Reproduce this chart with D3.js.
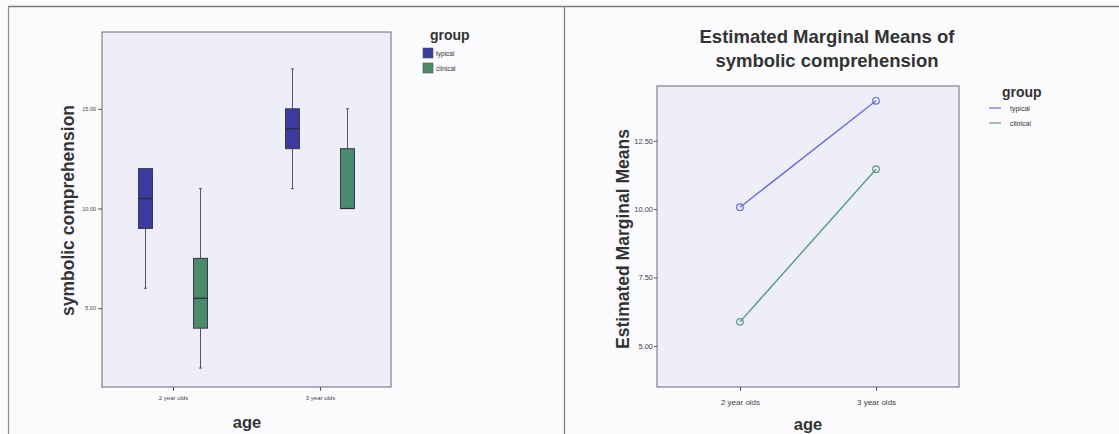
<!DOCTYPE html>
<html>
<head>
<meta charset="utf-8">
<script src="https://cdn.jsdelivr.net/npm/d3@7"></script>
<style>
  body { margin: 0; background: #fbfbfd; }
  svg { display: block; font-family: "Liberation Sans", Arial, sans-serif; }
</style>
</head>
<body>
<svg id="chart" width="1119" height="434"></svg>
<script>
// data ------------------------------------------------------------------
const categories = ["2 year olds", "3 year olds"];
const groups = ["typical", "clinical"];
const groupColors = ["#3b3ba0", "#4b8a6c"];
const lineColors = ["#6b6bdc", "#5b9a82"];

// box stats per age: [min, q1, median, q3, max]
const boxTypical = [[6, 9, 10.5, 12, 12], [11, 13, 14, 15, 17]];
const boxClinical = [[2, 4, 5.5, 7.5, 11], [10, 10, 10, 13, 15]];

// estimated marginal means per age
const meansTypical = [10.07, 13.96];
const meansClinical = [5.88, 11.46];

const boxTicks = [5, 10, 15];
const meanTicks = [5, 7.5, 10, 12.5];

const svg = d3.select("#chart");
const fmt = d3.format(".2f");

// page frame
svg.append("line").attr("x1", 8).attr("x2", 1119).attr("y1", 6.5).attr("y2", 6.5)
  .attr("stroke", "#7a7a80").attr("stroke-width", 1.5);
svg.append("line").attr("x1", 8.5).attr("x2", 8.5).attr("y1", 6).attr("y2", 434)
  .attr("stroke", "#8a8a90").attr("stroke-width", 1.2);
svg.append("line").attr("x1", 564.5).attr("x2", 564.5).attr("y1", 6).attr("y2", 434)
  .attr("stroke", "#7a7a80").attr("stroke-width", 1.2);

// ---------------------------------------------------------------- boxplot
const left = { x0: 102, x1: 391, y0: 32, y1: 387 };
const xL = d3.scalePoint().domain(categories).range([left.x0, left.x1]).padding(0.483);
const gOff = d3.scalePoint().domain(groups).range([-27.5, 27.5]);
const yL = d3.scaleLinear().domain([1.05, 18.85]).range([left.y1, left.y0]);

const gl = svg.append("g");
gl.append("rect").attr("x", left.x0).attr("y", left.y0)
  .attr("width", left.x1 - left.x0).attr("height", left.y1 - left.y0)
  .attr("fill", "#eeeef9").attr("stroke", "#6a6a72").attr("stroke-width", 1);

gl.append("g").attr("transform", `translate(${left.x0},0)`)
  .call(d3.axisLeft(yL).tickValues(boxTicks).tickFormat(fmt).tickSize(4).tickPadding(2))
  .call(g => g.select(".domain").remove())
  .call(g => g.selectAll("line").attr("stroke", "#555"))
  .call(g => g.selectAll("text").attr("font-size", 5.5).attr("fill", "#444"));

gl.append("g").attr("transform", `translate(0,${left.y1})`)
  .call(d3.axisBottom(xL).tickSize(4).tickPadding(5))
  .call(g => g.select(".domain").remove())
  .call(g => g.selectAll("line").attr("stroke", "#555"))
  .call(g => g.selectAll("text").attr("font-size", 6).attr("fill", "#444"));

const boxW = 14;
[boxTypical, boxClinical].forEach((series, gi) => {
  series.forEach((s, ci) => {
    const cx = xL(categories[ci]) + gOff(groups[gi]);
    const [mn, q1, md, q3, mx] = s;
    const b = gl.append("g");
    b.append("line").attr("x1", cx).attr("x2", cx).attr("y1", yL(mn)).attr("y2", yL(q1))
      .attr("stroke", "#555").attr("stroke-width", 1);
    b.append("line").attr("x1", cx).attr("x2", cx).attr("y1", yL(q3)).attr("y2", yL(mx))
      .attr("stroke", "#555").attr("stroke-width", 1);
    [mn, mx].forEach(v => {
      if (v !== q1 && v !== q3) {
        b.append("line").attr("x1", cx - 1.5).attr("x2", cx + 1.5).attr("y1", yL(v)).attr("y2", yL(v))
          .attr("stroke", "#555").attr("stroke-width", 1);
      }
    });
    b.append("rect").attr("x", cx - boxW / 2).attr("y", yL(q3))
      .attr("width", boxW).attr("height", yL(q1) - yL(q3))
      .attr("fill", groupColors[gi]).attr("stroke", "#3a3a48").attr("stroke-width", 1);
    b.append("line").attr("x1", cx - boxW / 2).attr("x2", cx + boxW / 2)
      .attr("y1", yL(md)).attr("y2", yL(md)).attr("stroke", "#2a2a3a").attr("stroke-width", 1.2);
  });
});

gl.append("text").attr("transform", `translate(74,${(left.y0 + left.y1) / 2 + 1}) rotate(-90)`)
  .attr("text-anchor", "middle").attr("font-size", 17.5).attr("font-weight", "bold")
  .attr("fill", "#333").text("symbolic comprehension");
gl.append("text").attr("x", 247).attr("y", 428).attr("text-anchor", "middle")
  .attr("font-size", 16.5).attr("font-weight", "bold").attr("fill", "#333").text("age");

// legend
gl.append("text").attr("x", 430).attr("y", 40).attr("font-size", 14)
  .attr("font-weight", "bold").attr("fill", "#333").text("group");
groups.forEach((g, i) => {
  gl.append("rect").attr("x", 423).attr("y", 48 + i * 15).attr("width", 10).attr("height", 10)
    .attr("fill", groupColors[i]).attr("stroke", "#555").attr("stroke-width", 0.6);
  gl.append("text").attr("x", 436).attr("y", 56 + i * 15).attr("font-size", 6.5)
    .attr("fill", "#333").text(g);
});

// ------------------------------------------------------------- means plot
const right = { x0: 657, x1: 959, y0: 86, y1: 387 };
const xR = d3.scalePoint().domain(categories).range([right.x0, right.x1]).padding(0.61);
const yR = d3.scaleLinear().domain([3.5, 14.5]).range([right.y1, right.y0]);

const gr = svg.append("g");
gr.append("rect").attr("x", right.x0).attr("y", right.y0)
  .attr("width", right.x1 - right.x0).attr("height", right.y1 - right.y0)
  .attr("fill", "#eeeef9").attr("stroke", "#6a6a72").attr("stroke-width", 1);

gr.append("g").attr("transform", `translate(${right.x0},0)`)
  .call(d3.axisLeft(yR).tickValues(meanTicks).tickFormat(fmt).tickSize(3).tickPadding(1))
  .call(g => g.select(".domain").remove())
  .call(g => g.selectAll("line").attr("stroke", "#555"))
  .call(g => g.selectAll("text").attr("font-size", 7.5).attr("fill", "#444"));

gr.append("g").attr("transform", `translate(0,${right.y1})`)
  .call(d3.axisBottom(xR).tickSize(4).tickPadding(8))
  .call(g => g.select(".domain").remove())
  .call(g => g.selectAll("line").attr("stroke", "#555"))
  .call(g => g.selectAll("text").attr("font-size", 8).attr("fill", "#444"));

const line = d3.line().x((d, i) => xR(categories[i])).y(d => yR(d));
[meansTypical, meansClinical].forEach((series, gi) => {
  gr.append("path").datum(series).attr("d", line).attr("fill", "none")
    .attr("stroke", lineColors[gi]).attr("stroke-width", 1.4);
  gr.selectAll(null).data(series).join("circle")
    .attr("cx", (d, i) => xR(categories[i])).attr("cy", d => yR(d)).attr("r", 3.3)
    .attr("fill", "none").attr("stroke", lineColors[gi]).attr("stroke-width", 1.2);
});

gr.append("text").attr("x", 827).attr("y", 43).attr("text-anchor", "middle")
  .attr("font-size", 18.5).attr("font-weight", "bold").attr("fill", "#333")
  .text("Estimated Marginal Means of");
gr.append("text").attr("x", 827).attr("y", 67).attr("text-anchor", "middle")
  .attr("font-size", 18.5).attr("font-weight", "bold").attr("fill", "#333")
  .text("symbolic comprehension");
gr.append("text").attr("transform", `translate(629,${(128 + 350) / 2}) rotate(-90)`)
  .attr("text-anchor", "middle").attr("font-size", 17.5).attr("font-weight", "bold")
  .attr("fill", "#333").text("Estimated Marginal Means");
gr.append("text").attr("x", 808).attr("y", 430).attr("text-anchor", "middle")
  .attr("font-size", 16.5).attr("font-weight", "bold").attr("fill", "#333").text("age");

// legend
gr.append("text").attr("x", 1002).attr("y", 97).attr("font-size", 14)
  .attr("font-weight", "bold").attr("fill", "#333").text("group");
groups.forEach((g, i) => {
  gr.append("line").attr("x1", 989).attr("x2", 1001).attr("y1", 108 + i * 15).attr("y2", 108 + i * 15)
    .attr("stroke", lineColors[i]).attr("stroke-width", 1.2);
  gr.append("text").attr("x", 1010).attr("y", 110.5 + i * 15).attr("font-size", 7)
    .attr("fill", "#333").text(g);
});
</script>
</body>
</html>
